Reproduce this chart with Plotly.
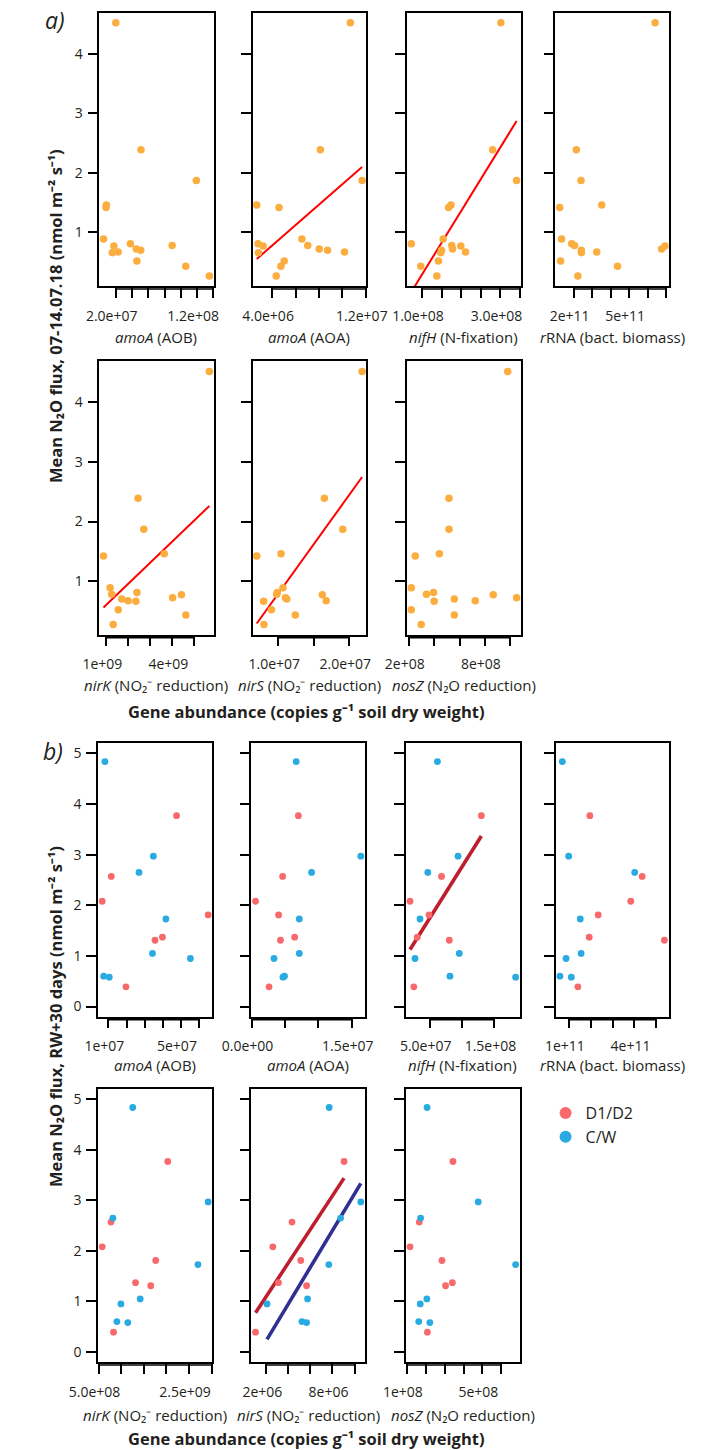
import numpy as np
import plotly.graph_objects as go

# ---------------- DATA ----------------
# a) 16 samples, mean N2O flux 07-14.07.18
flux_a = [4.52, 2.39, 1.87, 1.46, 1.42, 0.89, 0.81, 0.78, 0.77, 0.72, 0.70, 0.67, 0.66, 0.52, 0.43, 0.27]
a_amoA_AOB = [2.01e7, 5.1e7, 11.9e7, 0.85e7, 0.81e7, 0.5e7, 3.8e7, 8.93e7, 1.77e7, 4.53e7, 5.07e7, 2.3e7, 1.58e7, 4.6e7, 10.6e7, 13.5e7]
a_amoA_AOA = [1.068e7, 8.12e6, 1.168e7, 2.69e6, 4.59e6, 6.54e6, 2.80e6, 7.04e6, 3.24e6, 8.02e6, 8.73e6, 1.018e7, 2.83e6, 5.03e6, 4.75e6, 4.35e6]
a_nifH = [3.01e8, 2.80e8, 3.41e8, 1.74e8, 1.68e8, 1.54e8, 7.3e7, 1.76e8, 1.99e8, 1.78e8, 1.50e8, 2.11e8, 1.48e8, 1.42e8, 9.7e7, 1.38e8]
a_rRNA = [6.4e11, 2.15e11, 2.4e11, 3.52e11, 1.25e11, 1.35e11, 1.9e11, 2.05e11, 6.93e11, 6.75e11, 2.42e11, 3.25e11, 2.42e11, 1.3e11, 4.37e11, 2.23e11]
a_nirK = [5.68e9, 2.44e9, 2.70e9, 3.63e9, 0.87e9, 1.17e9, 2.39e9, 1.24e9, 4.41e9, 4.01e9, 1.70e9, 1.99e9, 2.34e9, 1.54e9, 4.61e9, 1.31e9]
a_nirS = [2.18e7, 1.649e7, 1.908e7, 1.039e7, 6.97e6, 1.066e7, 9.87e6, 9.78e6, 1.62e7, 1.10e7, 1.12e7, 1.675e7, 7.94e6, 9.04e6, 1.24e7, 7.98e6]
a_nosZ = [9.80e8, 5.17e8, 5.17e8, 4.41e8, 2.51e8, 2.2e8, 3.95e8, 3.39e8, 8.66e8, 1.05e9, 5.59e8, 7.24e8, 4.0e8, 2.2e8, 5.59e8, 2.98e8]

# b) mean N2O flux RW+30 days, two groups
flux_D = [3.77, 2.57, 2.08, 1.81, 1.37, 1.31, 0.39]          # D1/D2
flux_C = [4.84, 2.97, 2.65, 1.73, 1.05, 0.95, 0.60, 0.58]    # C/W
b_AOB_D = [4.76e7, 1.16e7, 0.66e7, 6.5e7, 3.98e7, 3.57e7, 1.97e7]
b_AOB_C = [0.81e7, 3.48e7, 2.69e7, 4.17e7, 3.43e7, 5.52e7, 0.74e7, 1.05e7]
b_AOA_D = [7.0e6, 4.65e6, 0.6e6, 4.05e6, 6.45e6, 4.33e6, 2.62e6]
b_AOA_C = [6.68e6, 1.634e7, 8.98e6, 7.14e6, 7.14e6, 3.36e6, 4.93e6, 4.70e6]
b_nifH_D = [1.298e8, 6.83e7, 1.97e7, 4.9e7, 3.08e7, 8.03e7, 2.55e7]
b_nifH_C = [6.2e7, 9.38e7, 4.71e7, 3.51e7, 9.57e7, 2.74e7, 8.13e7, 1.827e8]
b_rRNA_D = [1.96e11, 4.35e11, 3.83e11, 2.34e11, 1.93e11, 5.37e11, 1.41e11]
b_rRNA_C = [0.70e11, 0.99e11, 4.01e11, 1.52e11, 1.56e11, 0.87e11, 0.59e11, 1.11e11]
b_nirK_D = [2.03e9, 7.75e8, 5.8e8, 1.764e9, 1.317e9, 1.654e9, 8.3e8]
b_nirK_C = [1.255e9, 2.924e9, 8.16e8, 2.698e9, 1.42e9, 9.94e8, 9.05e8, 1.146e9]
b_nirS_D = [9.05e6, 4.33e6, 2.59e6, 5.12e6, 3.10e6, 5.65e6, 1.02e6]
b_nirS_C = [7.70e6, 1.057e7, 8.74e6, 7.67e6, 5.74e6, 2.06e6, 5.23e6, 5.65e6]
b_nosZ_D = [3.44e8, 1.66e8, 1.17e8, 2.86e8, 3.41e8, 3.05e8, 2.09e8]
b_nosZ_C = [2.07e8, 4.78e8, 1.73e8, 6.76e8, 2.06e8, 1.71e8, 1.63e8, 2.22e8]

group_names = ["D1/D2", "C/W"]

# all tick positions, and the labelled subset (value -> label)
t_a_AOB = [2e7, 4e7, 6e7, 8e7, 1e8, 1.2e8, 1.4e8];  l_a_AOB = {2e7: "2.0e+07", 1.2e8: "1.2e+08"}
t_a_AOA = [4e6, 6e6, 8e6, 1e7, 1.2e7];              l_a_AOA = {4e6: "4.0e+06", 1.2e7: "1.2e+07"}
t_a_nifH = [1e8, 1.5e8, 2e8, 2.5e8, 3e8, 3.5e8];    l_a_nifH = {1e8: "1.0e+08", 3e8: "3.0e+08"}
t_a_rRNA = [2e11, 3e11, 4e11, 5e11, 6e11, 7e11];    l_a_rRNA = {2e11: "2e+11", 5e11: "5e+11"}
t_a_nirK = [1e9, 2e9, 3e9, 4e9, 5e9];               l_a_nirK = {1e9: "1e+09", 4e9: "4e+09"}
t_a_nirS = [1e7, 1.5e7, 2e7];                       l_a_nirS = {1e7: "1.0e+07", 2e7: "2.0e+07"}
t_a_nosZ = [2e8, 4e8, 6e8, 8e8, 1e9];               l_a_nosZ = {2e8: "2e+08", 8e8: "8e+08"}
t_b_AOB = [1e7, 2e7, 3e7, 4e7, 5e7, 6e7];           l_b_AOB = {1e7: "1e+07", 5e7: "5e+07"}
t_b_AOA = [0, 5e6, 1e7, 1.5e7];                     l_b_AOA = {0: "0.0e+00", 1.5e7: "1.5e+07"}
t_b_nifH = [5e7, 1e8, 1.5e8];                       l_b_nifH = {5e7: "5.0e+07", 1.5e8: "1.5e+08"}
t_b_rRNA = [1e11, 2e11, 3e11, 4e11, 5e11];          l_b_rRNA = {1e11: "1e+11", 4e11: "4e+11"}
t_b_nirK = [5e8, 1e9, 1.5e9, 2e9, 2.5e9, 3e9];      l_b_nirK = {5e8: "5.0e+08", 2.5e9: "2.5e+09"}
t_b_nirS = [2e6, 4e6, 6e6, 8e6, 1e7];               l_b_nirS = {2e6: "2e+06", 8e6: "8e+06"}
t_b_nosZ = [1e8, 2e8, 3e8, 4e8, 5e8, 6e8];          l_b_nosZ = {1e8: "1e+08", 5e8: "5e+08"}

yt_a = [1, 2, 3, 4]
yt_b = [0, 1, 2, 3, 4, 5]
ylim_b = [0, 5]

titles = {
    "AOB": "<i>amoA</i> (AOB)", "AOA": "<i>amoA</i> (AOA)", "nifH": "<i>nifH</i> (N-fixation)",
    "rRNA": "<i>r</i>RNA (bact. biomass)", "nirK": "<i>nirK</i> (NO₂⁻ reduction)",
    "nirS": "<i>nirS</i> (NO₂⁻ reduction)", "nosZ": "<i>nosZ</i> (N₂O reduction)",
}
xlab = "<b>Gene abundance (copies g⁻¹ soil dry weight)</b>"
ylab_a = "<b>Mean N₂O flux, 07-14.07.18 (nmol m⁻² s⁻¹)</b>"
ylab_b = "<b>Mean N₂O flux, RW+30 days (nmol m⁻² s⁻¹)</b>"

# ---------------- STYLE / LAYOUT ----------------
W, H = 701, 1450
ORANGE = "#FBAD3F"
RED = "#F8696B"
BLUE = "#29ABE2"
FIT_A = "#FF0000"
FIT_D = "#BE1E2D"
FIT_C = "#2E3192"
FONT = "Open Sans"
TXT = "#231F20"

cols_a = [(74.7, 198), (240, 362.7), (406.7, 529.3), (566.7, 689.3)]
cols_b = [(73.3, 196.7), (238.7, 361.3), (405.3, 528.3), (567, 688.7)]
rows = {"a1": (12.7, 286), "a2": (361.3, 634.7), "b1": (743.3, 1016.7), "b2": (1089.3, 1362)}

panels = [
    ("a1", cols_a[0], "AOB", [(a_amoA_AOB, flux_a, ORANGE, None, None)], t_a_AOB, l_a_AOB),
    ("a1", cols_a[1], "AOA", [(a_amoA_AOA, flux_a, ORANGE, FIT_A, None)], t_a_AOA, l_a_AOA),
    ("a1", cols_a[2], "nifH", [(a_nifH, flux_a, ORANGE, FIT_A, None)], t_a_nifH, l_a_nifH),
    ("a1", cols_a[3], "rRNA", [(a_rRNA, flux_a, ORANGE, None, None)], t_a_rRNA, l_a_rRNA),
    ("a2", cols_a[0], "nirK", [(a_nirK, flux_a, ORANGE, FIT_A, None)], t_a_nirK, l_a_nirK),
    ("a2", cols_a[1], "nirS", [(a_nirS, flux_a, ORANGE, FIT_A, None)], t_a_nirS, l_a_nirS),
    ("a2", cols_a[2], "nosZ", [(a_nosZ, flux_a, ORANGE, None, None)], t_a_nosZ, l_a_nosZ),
    ("b1", cols_b[0], "AOB", [(b_AOB_D, flux_D, RED, None, 0), (b_AOB_C, flux_C, BLUE, None, 1)], t_b_AOB, l_b_AOB),
    ("b1", cols_b[1], "AOA", [(b_AOA_D, flux_D, RED, None, 0), (b_AOA_C, flux_C, BLUE, None, 1)], t_b_AOA, l_b_AOA),
    ("b1", cols_b[2], "nifH", [(b_nifH_D, flux_D, RED, FIT_D, 0), (b_nifH_C, flux_C, BLUE, None, 1)], t_b_nifH, l_b_nifH),
    ("b1", cols_b[3], "rRNA", [(b_rRNA_D, flux_D, RED, None, 0), (b_rRNA_C, flux_C, BLUE, None, 1)], t_b_rRNA, l_b_rRNA),
    ("b2", cols_b[0], "nirK", [(b_nirK_D, flux_D, RED, None, 0), (b_nirK_C, flux_C, BLUE, None, 1)], t_b_nirK, l_b_nirK),
    ("b2", cols_b[1], "nirS", [(b_nirS_D, flux_D, RED, FIT_D, 0), (b_nirS_C, flux_C, BLUE, FIT_C, 1)], t_b_nirS, l_b_nirS),
    ("b2", cols_b[2], "nosZ", [(b_nosZ_D, flux_D, RED, None, 0), (b_nosZ_C, flux_C, BLUE, None, 1)], t_b_nosZ, l_b_nosZ),
]

def pad(lo, hi):
    d = 0.04 * (hi - lo)
    return [lo - d, hi + d]

fig = go.Figure()
layout = {}
shapes = []
annotations = []
legend_done = set()

for i, (row, (cx0, cx1), key, groups, tv, tl) in enumerate(panels):
    n = i + 1
    xa = "x" if n == 1 else f"x{n}"
    ya = "y" if n == 1 else f"y{n}"
    ry0, ry1 = rows[row]
    is_a = row.startswith("a")
    allx = [v for g in groups for v in g[0]]
    xr = pad(min(allx), max(allx))
    yr = pad(min(flux_a), max(flux_a)) if is_a else pad(*ylim_b)
    first_col = abs(cx0 - 74) < 2

    for gx, gy, col, fit, leg in groups:
        if fit is not None:
            k, b0 = np.polyfit(gx, gy, 1)
            xl = np.array([min(gx), max(gx)])
            fig.add_trace(go.Scatter(x=xl, y=k * xl + b0, mode="lines", xaxis=xa, yaxis=ya,
                                     line=dict(color=fit, width=2 if is_a else 3.6),
                                     showlegend=False, hoverinfo="skip"))
    for gx, gy, col, fit, leg in groups:
        show = leg is not None and leg not in legend_done
        if show:
            legend_done.add(leg)
        fig.add_trace(go.Scatter(x=gx, y=gy, mode="markers", xaxis=xa, yaxis=ya,
                                 marker=dict(color=col, size=7.5 if is_a else 6.8, line=dict(width=0)),
                                 name=group_names[leg] if leg is not None else "flux",
                                 showlegend=show, cliponaxis=False))

    tick_style = dict(ticks="outside", ticklen=10, tickwidth=1.5, tickcolor="black")
    ax_common = dict(showline=True, linecolor="black", linewidth=1.5, mirror=True, showgrid=False,
                     zeroline=False, tickfont=dict(family=FONT, size=14, color=TXT), **tick_style)
    layout["xaxis" if n == 1 else f"xaxis{n}"] = dict(
        ax_common, domain=[cx0 / W, cx1 / W], range=xr, anchor=ya,
        tickmode="array", tickvals=list(tl.keys()), ticktext=list(tl.values()),
        minor=dict(tickmode="array", tickvals=tv, showgrid=False, **tick_style),
        ticklabelstandoff=6, ticklabelshift=-4)
    layout["yaxis" if n == 1 else f"yaxis{n}"] = dict(
        ax_common, domain=[1 - ry1 / H, 1 - ry0 / H], range=yr, anchor=xa,
        tickmode="array", tickvals=yt_a if is_a else yt_b, showticklabels=first_col, ticklabelstandoff=2)

    # R-style axis line from first to last tick, just under the box
    shapes.append(dict(type="line", xref=xa, yref=f"{ya} domain", x0=tv[0], x1=tv[-1],
                       ysizemode="pixel", yanchor=0, y0=-3, y1=-3,
                       line=dict(color="black", width=1.4)))

    ty = {"a1": 337, "a2": 685, "b1": 1065, "b2": 1415}[row]
    annotations.append(dict(text=titles[key], x=(cx0 + cx1) / 2 / W, y=1 - ty / H, xref="paper", yref="paper",
                            xanchor="center", yanchor="middle", showarrow=False,
                            font=dict(family=FONT, size=15, color=TXT)))

bold_font = dict(family=FONT, size=16.5, color=TXT)
annotations += [
    dict(text=xlab, x=298 / W, y=1 - 711 / H,
         xref="paper", yref="paper", showarrow=False, xanchor="center", yanchor="middle", font=bold_font),
    dict(text=xlab, x=298 / W, y=1 - 1438 / H,
         xref="paper", yref="paper", showarrow=False, xanchor="center", yanchor="middle", font=bold_font),
    dict(text=ylab_a, x=27 / W, y=1 - 316 / H, xref="paper", yref="paper", showarrow=False, textangle=-90,
         xanchor="center", yanchor="middle", font=bold_font),
    dict(text=ylab_b, x=27 / W, y=1 - 1017 / H, xref="paper", yref="paper", showarrow=False, textangle=-90,
         xanchor="center", yanchor="middle", font=bold_font),
    dict(text="<i>a)</i>", x=27 / W, y=1 - 20 / H, xref="paper", yref="paper", showarrow=False,
         xanchor="center", yanchor="middle", font=dict(family=FONT, size=23, color=TXT)),
    dict(text="<i>b)</i>", x=25 / W, y=1 - 751 / H, xref="paper", yref="paper", showarrow=False,
         xanchor="center", yanchor="middle", font=dict(family=FONT, size=23, color=TXT)),
]

fig.update_layout(
    width=W, height=H, margin=dict(l=0, r=0, t=0, b=0),
    paper_bgcolor="white", plot_bgcolor="white",
    showlegend=True,
    legend=dict(x=556 / W, y=1 - 1096 / H, xanchor="left", yanchor="top", bgcolor="rgba(0,0,0,0)",
                font=dict(family=FONT, size=16, color=TXT), itemsizing="constant",
                tracegroupgap=0),
    shapes=shapes, annotations=annotations,
    **layout,
)

fig.write_html("out.html")
